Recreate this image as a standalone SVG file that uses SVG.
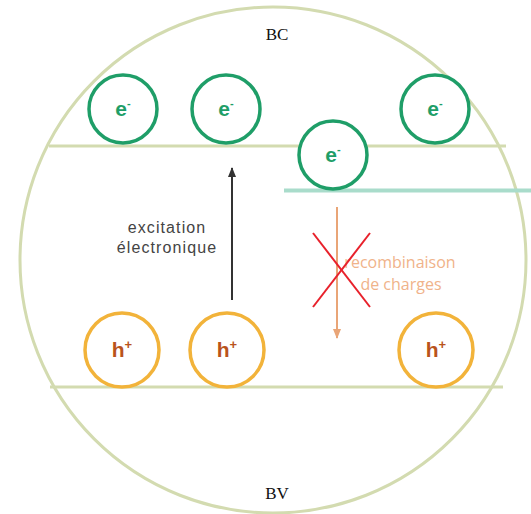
<svg xmlns="http://www.w3.org/2000/svg" width="531" height="514" viewBox="0 0 531 514">
<style>
.band{stroke:#d3dbb0;stroke-width:3;fill:none}
.e{fill:#fff;stroke:#1f9e68;stroke-width:3.5}
.h{fill:#fff;stroke:#f2b33a;stroke-width:3.5}
.et{font-family:"Liberation Sans",Arial,sans-serif;font-weight:bold;font-size:21px;fill:#1f9e68;text-anchor:middle}
.ht{font-family:"Liberation Sans",Arial,sans-serif;font-weight:bold;font-size:21px;fill:#b9531c;text-anchor:middle}
.lbl{font-family:"Liberation Serif","Times New Roman",serif;font-size:17px;fill:#111;text-anchor:middle}
</style>
<defs>
<marker id="ab" viewBox="0 0 10 10" refX="9" refY="5" markerWidth="5" markerHeight="5" orient="auto"><path d="M0,1 L10,5 L0,9 z" fill="#333"/></marker>
<marker id="ao" viewBox="0 0 10 10" refX="9" refY="5" markerWidth="5" markerHeight="5" orient="auto"><path d="M0,1 L10,5 L0,9 z" fill="#e9a577"/></marker>
</defs>
<rect width="531" height="514" fill="#fff"/>
<circle cx="273" cy="260" r="253" fill="none" stroke="#d3dbb0" stroke-width="3"/>
<line class="band" x1="49" y1="146" x2="506" y2="146"/>
<line class="band" x1="50" y1="387" x2="503" y2="387"/>
<line x1="284" y1="190.5" x2="531" y2="190.5" stroke="#a9dccb" stroke-width="4"/>
<text class="lbl" x="277" y="40">BC</text>
<text class="lbl" x="277" y="499">BV</text>
<g id="connectors">
<line x1="232" y1="300" x2="232" y2="168" stroke="#333" stroke-width="2" marker-end="url(#ab)"/>
<line x1="337" y1="207" x2="337" y2="338" stroke="#e9a577" stroke-width="2" marker-end="url(#ao)"/>
</g>
<g id="label-excitation" font-family="Liberation Sans,Arial,sans-serif" font-size="16" letter-spacing="1.1" fill="#444" text-anchor="middle">
<text x="167" y="233">excitation</text>
<text x="167" y="253">électronique</text>
</g>
<g id="label-recombinaison" font-family="Open Sans,Liberation Sans,sans-serif" font-size="16" fill="#f0b38a" text-anchor="middle">
<text x="400" y="268">recombinaison</text>
<text x="401" y="290">de charges</text>
</g>
<g id="cross" stroke="#e8212b" stroke-width="2">
<line x1="313" y1="233" x2="370" y2="307"/>
<line x1="370" y1="233" x2="313" y2="307"/>
</g>
<g id="e1"><circle class="e" cx="123" cy="109" r="34"/><text class="et" x="123" y="116">e<tspan font-size="11" dy="-9">-</tspan></text></g>
<g id="e2"><circle class="e" cx="226" cy="109" r="34"/><text class="et" x="226" y="116">e<tspan font-size="11" dy="-9">-</tspan></text></g>
<g id="e3"><circle class="e" cx="333" cy="155" r="34"/><text class="et" x="333" y="162">e<tspan font-size="11" dy="-9">-</tspan></text></g>
<g id="e4"><circle class="e" cx="435" cy="109" r="34"/><text class="et" x="435" y="116">e<tspan font-size="11" dy="-9">-</tspan></text></g>
<g id="h1"><circle class="h" cx="122" cy="350" r="37"/><text class="ht" x="122" y="357">h<tspan font-size="13" dy="-8">+</tspan></text></g>
<g id="h2"><circle class="h" cx="227" cy="350" r="37"/><text class="ht" x="227" y="357">h<tspan font-size="13" dy="-8">+</tspan></text></g>
<g id="h3"><circle class="h" cx="436" cy="350" r="37"/><text class="ht" x="436" y="357">h<tspan font-size="13" dy="-8">+</tspan></text></g>
</svg>
